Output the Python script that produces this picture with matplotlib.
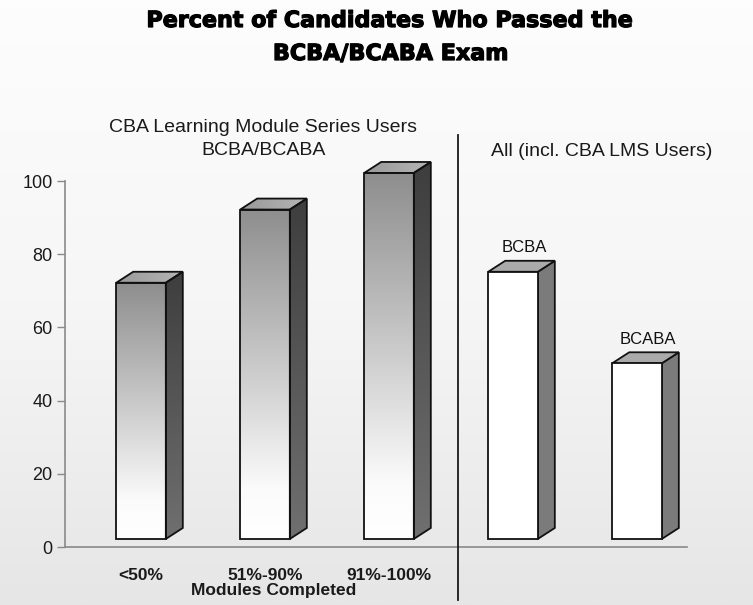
import numpy as np
import matplotlib
matplotlib.use("Agg")
import matplotlib.pyplot as plt
import matplotlib.patheffects as pe
from matplotlib.colors import LinearSegmentedColormap
from matplotlib.patches import Polygon, Rectangle
from matplotlib.lines import Line2D

# data
lms_labels = ["<50%", "51%-90%", "91%-100%"]
lms_values = [70, 90, 100]
all_labels = ["BCBA", "BCABA"]
all_values = [73, 48]

W, H = 753, 605
fig = plt.figure(figsize=(W / 100, H / 100), dpi=100)

def fx(px):
    return px / W

def fy(py):
    return 1 - py / H

# light background gradient
bg = fig.add_axes([0, 0, 1, 1], zorder=-10)
bg.imshow(np.linspace(0, 1, 256).reshape(-1, 1), extent=(0, 1, 0, 1), origin="upper",
          cmap=LinearSegmentedColormap.from_list("bg", ["#fdfdfd", "#f6f6f6", "#e6e6e6"]),
          aspect="auto")
bg.set_axis_off()

ax = fig.add_axes([fx(65), fy(547), fx(687) - fx(65), fy(160) - fy(547)])
ax.set_facecolor("none")

bar_w = 0.40
dx, dy = 0.137, 3.0
floor = 2.2

front_grad = LinearSegmentedColormap.from_list(
    "front", [(0, "#ffffff"), (0.15, "#fbfbfb"), (0.5, "#cdcdcd"), (1, "#8e8e8e")])
side_grad = LinearSegmentedColormap.from_list("side", ["#707070", "#575757", "#3e3e3e"])
top_grad = LinearSegmentedColormap.from_list("top", ["#999999", "#b5b5b5"])
grad = np.linspace(0, 1, 256).reshape(-1, 1)


def bar3d(xc, h, shaded):
    x0, x1 = xc - bar_w / 2, xc + bar_w / 2
    b, t = floor, floor + h
    side = Polygon([(x1, b), (x1 + dx, b + dy), (x1 + dx, t + dy), (x1, t)], closed=True,
                   facecolor="none" if shaded else "#7b7b7b", edgecolor="#111111", lw=1.3, zorder=4)
    top = Polygon([(x0, t), (x0 + dx, t + dy), (x1 + dx, t + dy), (x1, t)], closed=True,
                  facecolor="none" if shaded else "#aaaaaa", edgecolor="#111111", lw=1.3, zorder=4)
    front = Rectangle((x0, b), bar_w, h, facecolor="none" if shaded else "white",
                      edgecolor="#111111", lw=1.3, zorder=4)
    for p in (side, top, front):
        ax.add_patch(p)
    if shaded:
        ax.imshow(grad, extent=(x0, x1, b, t), origin="lower", cmap=front_grad,
                  aspect="auto", zorder=3)
        im = ax.imshow(grad, extent=(x1, x1 + dx, b, t + dy), origin="lower", cmap=side_grad,
                       aspect="auto", zorder=3)
        im.set_clip_path(side)
        im = ax.imshow(grad.T, extent=(x0, x1 + dx, t, t + dy), origin="lower", cmap=top_grad,
                       aspect="auto", zorder=3)
        im.set_clip_path(top)


for i, v in enumerate(lms_values):
    bar3d(i, v, True)

for j, (lab, v) in enumerate(zip(all_labels, all_values)):
    xc = len(lms_values) + j
    bar3d(xc, v, False)
    ax.text(xc + dx / 2 + 0.02, floor + v + dy + 2.3, lab, ha="center", va="baseline",
            fontsize=12, family="Liberation Sans", color="#111111")

ax.set_xlim(-0.613, 4.403)
ax.set_ylim(0, (547 - 160) / 3.66)

for s in ("top", "right"):
    ax.spines[s].set_visible(False)
ax.spines["left"].set_bounds(0, 100)
ax.spines["left"].set_color("#8a8a8a")
ax.spines["bottom"].set_color("#8a8a8a")
ax.spines["left"].set_linewidth(1.2)
ax.spines["bottom"].set_linewidth(1.2)

ax.set_yticks([0, 20, 40, 60, 80, 100])
ax.tick_params(axis="y", length=6, width=1, color="#8a8a8a", pad=3,
               labelsize=13, labelcolor="#1a1a1a")
for lab in ax.get_yticklabels():
    lab.set_family("Liberation Sans")

ax.set_xticks(range(len(lms_labels)))
ax.set_xticklabels(lms_labels, fontsize=12.5, fontweight="bold", family="Liberation Sans",
                   color="#1a1a1a")
ax.tick_params(axis="x", length=0, pad=15)

fig.text(fx(274), fy(595), "Modules Completed", ha="center", va="baseline", fontsize=12.5,
         fontweight="bold", family="Liberation Sans", color="#1a1a1a")

# divider between the two groups
fig.add_artist(Line2D([fx(458), fx(458)], [fy(135), fy(600)], color="#1a1a1a", lw=1.3))

# group headings
fig.text(fx(263), fy(132), "CBA Learning Module Series Users", ha="center", va="baseline",
         fontsize=14, family="Liberation Sans", color="#1a1a1a")
fig.text(fx(264), fy(155), "BCBA/BCABA", ha="center", va="baseline",
         fontsize=14, family="Liberation Sans", color="#1a1a1a")
fig.text(fx(602), fy(156), "All (incl. CBA LMS Users)", ha="center", va="baseline",
         fontsize=14, family="Liberation Sans", color="#1a1a1a")

# title, stroked a little to look as heavy as the original
heavy = [pe.withStroke(linewidth=0.9, foreground="black")]
fig.text(fx(390), fy(27), "Percent of Candidates Who Passed the", ha="center", va="baseline",
         fontsize=16, fontweight="bold", family="DejaVu Sans", color="black", path_effects=heavy)
fig.text(fx(391), fy(60), "BCBA/BCABA Exam", ha="center", va="baseline",
         fontsize=16, fontweight="bold", family="DejaVu Sans", color="black", path_effects=heavy)

fig.savefig("out.png", dpi=100)
